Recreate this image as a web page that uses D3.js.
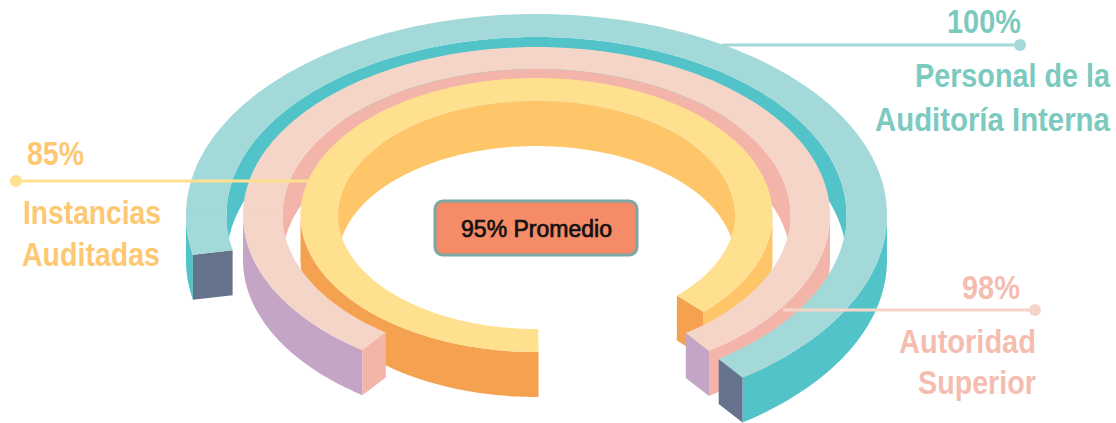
<!DOCTYPE html>
<html lang="es">
<head>
<meta charset="utf-8">
<title>Anillos de cumplimiento</title>
<script src="https://cdn.jsdelivr.net/npm/d3@7/dist/d3.min.js"></script>
<style>
  html, body { margin: 0; padding: 0; background: #fff; }
  svg { display: block; }
  .label { font-family: "Liberation Sans", sans-serif; font-weight: 700; }
</style>
</head>
<body>
<svg id="chart" width="1116" height="423"></svg>
<script>
// Values and categories
const ringNames = ["Personal de la Auditoría Interna", "Autoridad Superior", "Instancias Auditadas"];
const ringValues = [100, 98, 85];
const averageLabel = "95% Promedio";

// Where each ring starts and stops, in degrees round the ellipse (0 = right, 90 = front)
const ringEndRight = [54, 54, 45];
const ringEndLeft = [-191.4, -233.6, -270.5];

// Ring footprints on the ellipse
const outerRadiusX = [350.5, 293.5, 236];
const outerRadiusY = [201, 168, 137];
const innerRadiusX = [310, 254, 198.5];
const innerRadiusY = [178, 146, 114];

// Ring colours
const topColors = ["#a3d9d8", "#f5d5c8", "#fee08f"];
const holeWallColors = ["#52c4c9", "#f3b4a9", "#fec569"];
const wallRightColors = ["#52c4c9", "#f3b4a9", "#fec569"];
const wallLeftColors = ["#52c4c9", "#c4a5c5", "#f4a250"];
const capRightColors = ["#65748c", "#c4a5c5", "#f4a250"];
const capLeftColors = ["#65748c", "#f3b4a9", "#f4a250"];
const leaderColors = ["#a3d9d8", "#f5d5c8", "#fee08f"];
const textColors = ["#7ccabf", "#f5bdb0", "#fec872"];

const cx = 536.5, cy = 215, depth = 45;
const svg = d3.select("#chart");
const angle = d3.scaleLinear().domain([0, 180]).range([0, Math.PI]);

// A point on an ellipse at a given angle, optionally pushed down by the extrusion
const pt = (rx, ry, deg, dy = 0) => [
  cx + rx * Math.cos(angle(deg)),
  cy + ry * Math.sin(angle(deg)) + dy
];
const sweep = (a, b) => {
  const n = Math.max(2, Math.ceil(Math.abs(b - a)));
  return d3.range(n + 1).map(i => a + (b - a) * i / n);
};
const line = d3.line();
const closed = pts => line(pts) + "Z";

// Flat band on the top of a ring
function topBand(i, a, b) {
  const outer = sweep(a, b).map(d => pt(outerRadiusX[i], outerRadiusY[i], d));
  const inner = sweep(b, a).map(d => pt(innerRadiusX[i], innerRadiusY[i], d));
  return closed(outer.concat(inner));
}
// Vertical wall hanging from an arc of the given radii
function wall(rx, ry, a, b) {
  const upper = sweep(a, b).map(d => pt(rx, ry, d));
  const lower = sweep(b, a).map(d => pt(rx, ry, d, depth));
  return closed(upper.concat(lower));
}
// End face of a ring at one angle
function cap(i, deg) {
  const o = pt(outerRadiusX[i], outerRadiusY[i], deg);
  const n = pt(innerRadiusX[i], innerRadiusY[i], deg);
  return closed([o, n, [n[0], n[1] + depth], [o[0], o[1] + depth]]);
}
const draw = (d, fill) => svg.append("path").attr("d", d).attr("fill", fill);

// Far half of the rings, from the outside in, so inner rings overlap the walls behind them
ringValues.forEach((_, i) => {
  draw(wall(innerRadiusX[i], innerRadiusY[i], -180, 0), holeWallColors[i]);
  draw(topBand(i, -180, 1), topColors[i]);
});

// Near half of the rings, from the inside out, so outer rings overlap the ones behind them
d3.range(ringValues.length - 1, -1, -1).forEach(i => {
  const leftEnd = 360 + ringEndLeft[i];
  draw(wall(outerRadiusX[i], outerRadiusY[i], 0, ringEndRight[i]), wallRightColors[i]);
  draw(wall(outerRadiusX[i], outerRadiusY[i], leftEnd, 180), wallLeftColors[i]);
  draw(cap(i, ringEndRight[i]), capRightColors[i]);
  if (leftEnd > 91) draw(cap(i, leftEnd), capLeftColors[i]);
  draw(topBand(i, 0, ringEndRight[i]), topColors[i]);
  draw(topBand(i, leftEnd, 181), topColors[i]);
});

// Leader lines with their end dots
const leaderStart = [[722, 45], [783, 310], [308, 181]];
const leaderEnd = [[1020, 45], [1035, 310], [16, 181]];
ringValues.forEach((_, i) => {
  svg.append("path").attr("d", line([leaderStart[i], leaderEnd[i]]))
    .attr("stroke", leaderColors[i]).attr("stroke-width", 3).attr("fill", "none");
  svg.append("circle").attr("cx", leaderEnd[i][0]).attr("cy", leaderEnd[i][1])
    .attr("r", 6).attr("fill", leaderColors[i]);
});

// Percentages and ring names, each narrowed horizontally to a condensed set width
const labelLines = [["Personal de la", "Auditoría Interna"], ["Autoridad", "Superior"], ["Instancias", "Auditadas"]];
const percentSpots = [[947, 33, 74], [962, 299, 58], [27, 165, 57]];
const lineSpots = [
  [[915, 87, 195], [875, 131, 235]],
  [[899, 353, 137], [918, 394, 118]],
  [[23, 224, 138], [22, 266, 138]]
];
const putText = (text, spot, i) => {
  const t = svg.append("text").attr("class", "label")
    .attr("font-size", 33).attr("fill", textColors[i]).text(text);
  const squeeze = spot[2] / t.node().getComputedTextLength();
  t.attr("transform", `translate(${spot[0]},${spot[1]}) scale(${squeeze},1)`);
};
ringValues.forEach((v, i) => {
  putText(v + "%", percentSpots[i], i);
  labelLines[i].forEach((s, j) => putText(s, lineSpots[i][j], i));
});

// Average badge in the middle of the rings
svg.append("rect").attr("x", 435).attr("y", 201).attr("width", 202).attr("height", 54).attr("rx", 8)
  .attr("fill", "#f68b68").attr("stroke", "#7ba8a5").attr("stroke-width", 3);
svg.append("text").attr("x", 536.5).attr("y", 236.5).attr("text-anchor", "middle")
  .attr("font-family", "'Liberation Sans', Arial, sans-serif").attr("font-size", 23)
  .attr("fill", "#111").attr("stroke", "#111").attr("stroke-width", 0.7).text(averageLabel);
</script>
</body>
</html>
